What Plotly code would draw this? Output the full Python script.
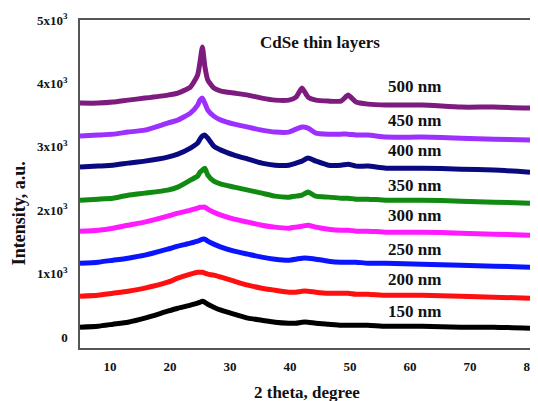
import plotly.graph_objects as go

# 2-theta grid (degrees) at which the traces were read
theta = [5, 8, 10.5, 13, 15.8, 19.6, 21.3, 23.4, 24.6, 25.0, 25.4, 25.8, 26.3, 27.3, 28.5,
         30.7, 33, 35.3, 37.5, 39.8, 41, 42, 43, 44.3, 46.4, 48.5, 49.7, 51, 53, 56, 62,
         68.5, 74, 80]

int_500 = [3690, 3690, 3706, 3737, 3769, 3816, 3848, 3943, 4132, 4337, 4573, 4274, 4053, 3927,
           3880, 3848, 3816, 3769, 3737, 3737, 3785, 3927, 3785, 3737, 3722, 3722, 3816, 3706,
           3674, 3659, 3659, 3627, 3627, 3611]
int_450 = [3170, 3186, 3201, 3233, 3264, 3375, 3422, 3532, 3659, 3737, 3769, 3690, 3580, 3485,
           3422, 3359, 3312, 3264, 3233, 3233, 3280, 3312, 3296, 3217, 3201, 3201, 3201, 3186,
           3186, 3154, 3154, 3138, 3122, 3107]
int_400 = [2681, 2697, 2712, 2744, 2776, 2839, 2886, 2981, 3059, 3122, 3170, 3186, 3138, 3012,
           2949, 2870, 2807, 2744, 2712, 2712, 2744, 2776, 2823, 2776, 2712, 2712, 2728, 2697,
           2697, 2665, 2665, 2649, 2634, 2602]
int_350 = [2160, 2176, 2192, 2239, 2271, 2318, 2366, 2476, 2539, 2602, 2634, 2665, 2555, 2460,
           2413, 2366, 2318, 2271, 2224, 2208, 2224, 2239, 2287, 2224, 2208, 2192, 2192, 2176,
           2176, 2160, 2160, 2145, 2129, 2113]
int_300 = [1672, 1687, 1719, 1766, 1814, 1908, 1955, 2003, 2034, 2050, 2050, 2050, 2019, 1971,
           1924, 1861, 1814, 1766, 1735, 1719, 1735, 1750, 1766, 1735, 1703, 1687, 1687, 1672,
           1672, 1656, 1656, 1640, 1624, 1609]
int_250 = [1167, 1183, 1214, 1246, 1293, 1388, 1435, 1482, 1514, 1530, 1545, 1545, 1514, 1467,
           1419, 1356, 1309, 1262, 1230, 1214, 1230, 1246, 1246, 1230, 1199, 1183, 1183, 1183,
           1167, 1167, 1151, 1135, 1120, 1104]
int_200 = [647, 662, 694, 725, 773, 867, 930, 994, 1025, 1025, 1025, 1009, 994, 978,
           946, 883, 820, 773, 741, 710, 710, 725, 725, 710, 694, 694, 694, 678,
           678, 662, 662, 647, 631, 615]
int_150 = [158, 173, 205, 237, 300, 410, 457, 505, 536, 552, 568, 552, 520, 473,
           426, 363, 300, 268, 237, 221, 221, 237, 237, 221, 205, 189, 189, 189,
           189, 173, 173, 158, 158, 142]

series_names = ["500 nm", "450 nm", "400 nm", "350 nm", "300 nm", "250 nm", "200 nm", "150 nm"]
series_values = [int_500, int_450, int_400, int_350, int_300, int_250, int_200, int_150]
series_colors = ["#7d1b7e", "#9b30ff", "#0a0a80", "#118a11", "#ff1aff", "#0a14ff", "#ff1010", "#000000"]

# label positions
label_x = 60.7
label_y = [3947, 3422, 2949, 2397, 1924, 1388, 915, 410]

tick_vals_y = [0, 1000, 2000, 3000, 4000, 5000]
tick_text_y = ["0", "1x10<sup>3</sup>", "2x10<sup>3</sup>", "3x10<sup>3</sup>",
               "4x10<sup>3</sup>", "5x10<sup>3</sup>"]
tick_vals_x = [10, 20, 30, 40, 50, 60, 70, 80]

FONT = "Liberation Serif, Times New Roman, serif"

fig = go.Figure()
for name, vals, col in zip(series_names, series_values, series_colors):
    fig.add_trace(go.Scatter(x=theta, y=vals, mode="lines", name=name,
                             line=dict(color=col, width=5, shape="spline", smoothing=0.5),
                             showlegend=False))

for name, ly in zip(series_names, label_y):
    fig.add_annotation(x=label_x, y=ly, text="<b>" + name + "</b>", showarrow=False,
                       font=dict(family=FONT, size=17, color="#111"),
                       xanchor="center", yanchor="middle")

fig.add_annotation(x=45, y=4652, text="<b>CdSe thin layers</b>", showarrow=False,
                   font=dict(family=FONT, size=17, color="#111"),
                   xanchor="center", yanchor="middle")

# axis titles
fig.add_annotation(xref="paper", yref="paper", x=0.504, y=-0.137,
                   text="<b>2 theta, degree</b>", showarrow=False,
                   font=dict(family=FONT, size=17, color="#111"),
                   xanchor="center", yanchor="middle")
fig.add_annotation(xref="paper", yref="paper", x=-0.136, y=0.41,
                   text="<b>Intensity, a.u.</b>", showarrow=False, textangle=-90,
                   font=dict(family=FONT, size=18, color="#111"),
                   xanchor="center", yanchor="middle")

# the page body adds an 8px offset, so the figure is 8px smaller than the window
fig.update_layout(
    width=530, height=393,
    margin=dict(l=72, r=8, t=12, b=53),
    paper_bgcolor="white", plot_bgcolor="white",
    font=dict(family=FONT, color="#111"),
    xaxis=dict(range=[5, 80], tickvals=tick_vals_x, showgrid=False, zeroline=False,
               showline=True, mirror=True, linecolor="#555", linewidth=1.5, ticks="",
               automargin=False, ticklabelstandoff=6,
               tickfont=dict(family=FONT, size=13, weight="bold")),
    yaxis=dict(range=[-170, 5000], tickvals=tick_vals_y, ticktext=tick_text_y,
               showgrid=False, zeroline=False, automargin=False, ticklabelstandoff=8,
               showline=True, mirror=True, linecolor="#555", linewidth=1.5, ticks="",
               tickfont=dict(family=FONT, size=13, weight="bold")),
)

fig.write_html("out.html")
